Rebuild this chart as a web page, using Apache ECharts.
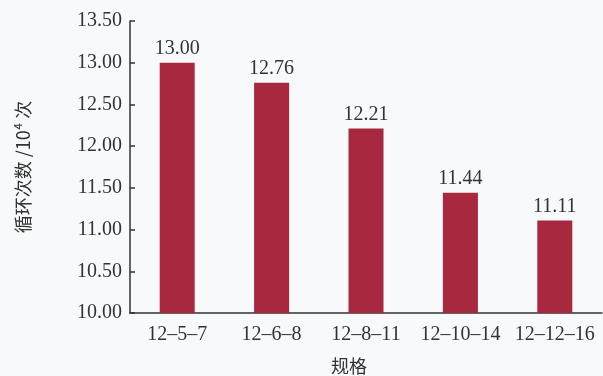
<!DOCTYPE html>
<html>
<head>
<meta charset="utf-8">
<script src="https://cdn.jsdelivr.net/npm/echarts@6/dist/echarts.min.js"></script>
<style>
  html, body { margin: 0; padding: 0; background: #f7f9fa; }
  #chart { width: 603px; height: 376px; }
</style>
</head>
<body>
<div id="chart"></div>
<script>
// Specifications and their cycle counts (×10^4)
const categories = ['12\u20135\u20137', '12\u20136\u20138', '12\u20138\u201311', '12\u201310\u201314', '12\u201312\u201316'];
const cycles = [13.00, 12.76, 12.21, 11.44, 11.11];
const yTicks = { min: 10.00, max: 13.50, step: 0.50 };

const serif = '"Liberation Serif", "DejaVu Serif", serif';
const textColor = '#333333';

const chart = echarts.init(document.getElementById('chart'));
chart.setOption({
  backgroundColor: '#f7f9fa',
  animation: false,
  grid: { left: 130, right: 1, top: 21, bottom: 63, outerBoundsMode: 'none', containLabel: false },
  xAxis: {
    type: 'category',
    data: categories,
    name: '规格',
    nameLocation: 'middle',
    nameGap: 44,
    nameTextStyle: {
      fontFamily: '"Noto Sans CJK SC", sans-serif',
      fontSize: 18,
      color: textColor,
      padding: [0, 34, 0, 0]
    },
    axisLine: { show: true, lineStyle: { color: '#333', width: 1.5 } },
    axisTick: { show: false },
    axisLabel: { interval: 0, fontFamily: serif, fontSize: 20, color: textColor, margin: 12 }
  },
  yAxis: {
    type: 'value',
    min: yTicks.min,
    max: yTicks.max,
    interval: yTicks.step,
    name: '循环次数 /10⁴ 次',
    nameLocation: 'middle',
    nameRotate: 90,
    nameGap: 98,
    nameTextStyle: {
      fontFamily: '"Noto Sans CJK SC", sans-serif',
      fontSize: 18,
      color: textColor
    },
    axisLine: { show: true, lineStyle: { color: '#333', width: 1.5 } },
    axisTick: { show: true, inside: true, length: 5, lineStyle: { color: '#333', width: 1.5 } },
    splitLine: { show: false },
    axisLabel: {
      fontFamily: serif,
      fontSize: 20,
      color: textColor,
      margin: 8,
      formatter: v => v.toFixed(2)
    }
  },
  series: [{
    type: 'bar',
    data: cycles,
    barWidth: 35,
    itemStyle: { color: '#a8283f' },
    label: {
      show: true,
      position: 'top',
      distance: 4,
      fontFamily: serif,
      fontSize: 20,
      color: textColor,
      formatter: p => p.value.toFixed(2)
    }
  }]
});
</script>
</body>
</html>
